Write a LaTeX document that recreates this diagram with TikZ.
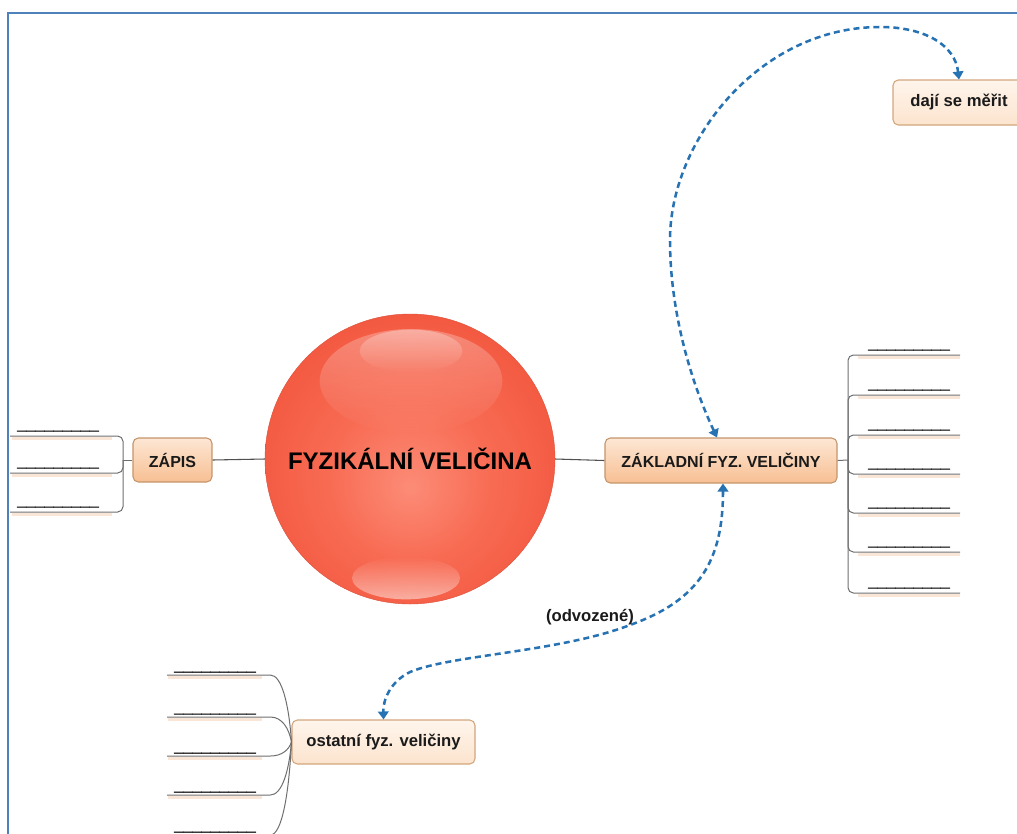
\documentclass[tikz,border=0pt]{standalone}
\usepackage{fontspec}
\setmainfont{Liberation Sans}
\newfontfamily\blankfont[FakeBold=2.5]{Liberation Sans Bold}
\usetikzlibrary{arrows.meta,fadings}

\definecolor{framebl}{HTML}{4F81BD}
\definecolor{linegrey}{HTML}{505050}
\definecolor{branchgrey}{HTML}{6E6E6E}
\definecolor{glowpeach}{HTML}{F6D2B4}
\definecolor{blankink}{HTML}{1E1E1E}
\definecolor{topicedge}{HTML}{C4956B}
\definecolor{topictop}{HTML}{FDE7D4}
\definecolor{topicbot}{HTML}{F7BF93}
\definecolor{subedge}{HTML}{D2A67C}
\definecolor{subtop}{HTML}{FFF5EC}
\definecolor{subbot}{HTML}{FCE4CE}
\definecolor{relblue}{HTML}{2672B3}
\definecolor{textink}{HTML}{1A1A1A}
\definecolor{ballhi}{HTML}{FC8C77}
\definecolor{ballmid}{HTML}{F86B53}
\definecolor{ballout}{HTML}{F35840}

% red glass ball, lighter towards the lower middle
\pgfdeclareradialshading{redball}{\pgfpoint{0bp}{-5bp}}{%
  color(0bp)=(ballhi); color(14bp)=(ballmid); color(28bp)=(ballout); color(50bp)=(ballout)}
\tikzfading[name=glossdown, top color=transparent!30, bottom color=transparent!100]
\tikzfading[name=glossup, top color=transparent!100, bottom color=transparent!25]

\begin{document}
\begin{tikzpicture}[x=0.75pt,y=-0.75pt,
  conn/.style={draw=linegrey, line width=0.8pt},
  branch/.style={draw=branchgrey, line width=0.75pt, rounded corners=4pt},
  glow/.style={draw=glowpeach, line width=2.6pt, opacity=0.55},
  blank/.style={font=\blankfont\fontsize{12.2}{14}\selectfont, inner sep=0pt, text=blankink, anchor=base west},
  topic/.style={rounded corners=4pt, draw=topicedge, line width=0.8pt,
    top color=topictop, bottom color=topicbot, text=textink,
    font=\bfseries\fontsize{12}{14}\selectfont, inner sep=0pt},
  subtopic/.style={rounded corners=4pt, draw=subedge, line width=0.8pt,
    top color=subtop, bottom color=subbot, text=textink,
    font=\bfseries\fontsize{12.5}{14}\selectfont, inner sep=0pt},
  relation/.style={draw=relblue, line width=1.9pt, dash pattern=on 4.5pt off 3pt,
    {Triangle[width=8pt,length=6pt]}-{Triangle[width=8pt,length=6pt]}},
]
\useasboundingbox (0,0) rectangle (1017,833);
\clip (0,0) rectangle (1017,833);

% page frame
\draw[framebl, line width=1.4pt] (8,845) -- (8,13) -- (1030,13);

% central topic
\node[circle, minimum size=217.5pt, inner sep=0pt, shade, shading=redball,
      draw=ballout!90!black, line width=0.3pt, text=black,
      font=\bfseries\fontsize{18}{20}\selectfont] (fv) at (410,459) {FYZIKÁLNÍ VELIČINA};
% gloss highlights
\fill[white, fill opacity=0.4, path fading=glossdown] (411,381) ellipse[x radius=68.5pt, y radius=39pt];
\fill[white, fill opacity=0.45, path fading=glossdown] (411,351) ellipse[x radius=38.5pt, y radius=16pt];
\fill[white, fill opacity=0.65, path fading=glossup] (406,578) ellipse[x radius=40.5pt, y radius=16pt];

% main topics
\node[topic, minimum width=59.25pt, minimum height=33pt] (zapis) at (172.5,460) {ZÁPIS};
\node[topic, minimum width=174pt, minimum height=33.75pt] (zakl) at (721,460.5) {ZÁKLADNÍ FYZ. VELIČINY};
\node[subtopic, minimum width=99pt, minimum height=33.75pt] (mer) at (959,102.5) {dají se měřit};
\node[subtopic, minimum width=137.25pt, minimum height=33pt] (ost) at (383.5,742) {ostatní fyz. veličiny};

\draw[conn] (fv.west) -- (zapis.east);
\draw[conn] (fv.east) -- (zakl.west);

% ZÁPIS: three blanks to the left
\coordinate (zj) at (123,460);
\draw[branch] (zapis.west) -- (zj);
\foreach \y [count=\i] in {436,473,512} {
  \draw[glow] (12,\y+2.5) -- (112,\y+2.5);
  \coordinate (zb\i) at (10,\y);
  \draw[branch] (zj) |- (zb\i);
  \node[blank] (zbl\i) at (17,\y-6.5) {\_\_\_\_\_\_\_\_\_};
}

% ZÁKLADNÍ FYZ. VELIČINY: seven blanks to the right
\coordinate (kj) at (848,460);
\draw[branch] (zakl.east) -- (kj);
\foreach \y [count=\i] in {355,395,435,474,513,552,593} {
  \draw[glow] (858,\y+2.5) -- (960,\y+2.5);
  \coordinate (kb\i) at (960,\y);
  \draw[branch] (kj) |- (kb\i);
  \node[blank] (kbl\i) at (868,\y-6.5) {\_\_\_\_\_\_\_\_\_};
}

% ostatní fyz. veličiny: five blanks fanning out to the left
\foreach \y [count=\i] in {675,717,756,795,835} {
  \draw[glow] (168,\y+2.5) -- (262,\y+2.5);
  \coordinate (ob\i) at (167,\y);
  \draw[branch] (ost.west) .. controls (289,{742+(\y-742)*0.55}) and (282,\y) .. (265,\y) -- (ob\i);
  \node[blank] (obl\i) at (174,\y-4.5) {\_\_\_\_\_\_\_\_\_};
}

% relations
\draw[relation] ([xshift=-3pt]zakl.north) .. controls (690,380) and (670,310) .. (670,240)
  .. controls (670,140) and (760,27) .. (880,27)
  .. controls (925,27) and (955,45) .. (mer.north);
\draw[relation] ([xshift=1.5pt]zakl.south) .. controls (723,560) and (700,600) .. (630,625)
  .. controls (560,652) and (450,655) .. (410,672)
  .. controls (390,682) and (383,700) .. (ost.north);
\node[text=textink, font=\bfseries\fontsize{12.5}{14}\selectfont] (odv) at (590,617) {(odvozené)};
\end{tikzpicture}
\end{document}
